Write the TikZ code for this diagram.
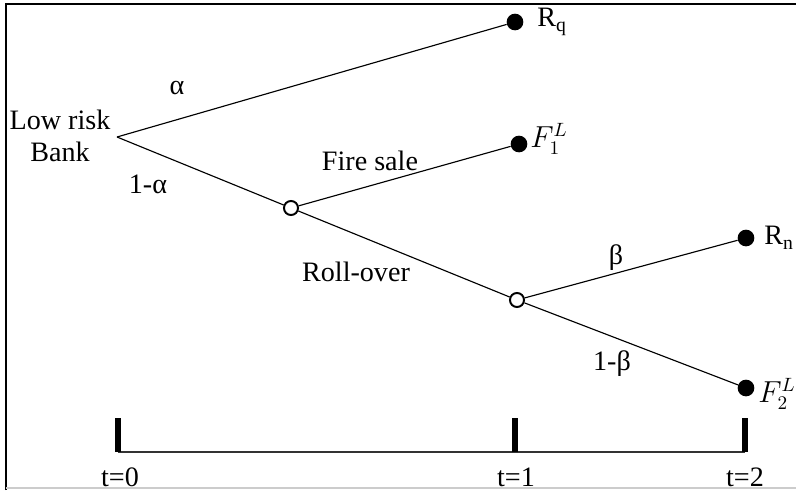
\documentclass[tikz,border=0pt]{standalone}
\usepackage{fontspec}
\setmainfont{Liberation Serif}
\usepackage{amsmath}

\tikzset{
  full/.style={circle, fill=black, inner sep=0pt, minimum size=9.5pt},
  empty/.style={circle, draw=black, fill=white, line width=1.1pt, inner sep=0pt, minimum size=8pt},
  branch/.style={line width=0.65pt},
  tick/.style={line width=3.6pt},
  lbl/.style={inner sep=1pt, font=\fontsize{16}{18}\selectfont},
  outc/.style={lbl, anchor=west, inner sep=0pt}
}

\begin{document}
\begin{tikzpicture}[x=0.02cm, y=-0.02cm]
  \useasboundingbox (0,0) rectangle (796,491);
  % frame
  \draw[line width=1.2pt] (6,490) -- (6,4) -- (796,4);
  \draw[gray!40, line width=1pt] (6,488) -- (796,488);

  \coordinate (root) at (117, 137);
  \node[lbl, align=center] (bank) at (60, 136) {Low risk\\Bank};
  \node[full]  (Rq)  at (515, 22) {};
  \node[full]  (F1)  at (519, 144) {};
  \node[empty] (c1)  at (291, 208) {};
  \node[empty] (c2)  at (517, 300) {};
  \node[full]  (Rn)  at (746, 238) {};
  \node[full]  (F2)  at (746, 388) {};

  % branches
  \draw[branch] (root) -- (Rq);
  \draw[branch] (root) -- (c1);
  \draw[branch] (c1) -- (F1);
  \draw[branch] (c1) -- (c2);
  \draw[branch] (c2) -- (Rn);
  \draw[branch] (c2) -- (F2);

  % outcomes
  \node[outc] (lRq) at (537, 22) {R\textsubscript{q}};
  \node[outc] (lF1) at (530, 139) {$F_1^L$};
  \node[outc] (lRn) at (764, 238) {R\textsubscript{n}};
  \node[outc] (lF2) at (758, 394) {$F_2^L$};

  % edge labels
  \node[lbl] (al)  at (177, 88)  {α};
  \node[lbl] (mal) at (148, 184) {1-α};
  \node[lbl] (fs)  at (370, 161) {Fire sale};
  \node[lbl] (ro)  at (356, 272) {Roll-over};
  \node[lbl] (be)  at (616, 258) {β};
  \node[lbl] (mbe) at (612, 364) {1-β};

  % time line
  \coordinate (t0) at (118, 452);
  \coordinate (t1) at (515, 452);
  \coordinate (t2) at (745, 452);
  \draw[line width=0.8pt, black!80] (t0) -- (t2);
  \foreach \t in {t0,t1,t2}
    \draw[tick] (\t) -- ++(0,-34);
  \node[lbl] (n0) at (120, 477) {t=0};
  \node[lbl] (n1) at (516, 477) {t=1};
  \node[lbl] (n2) at (745, 477) {t=2};
\end{tikzpicture}
\end{document}
